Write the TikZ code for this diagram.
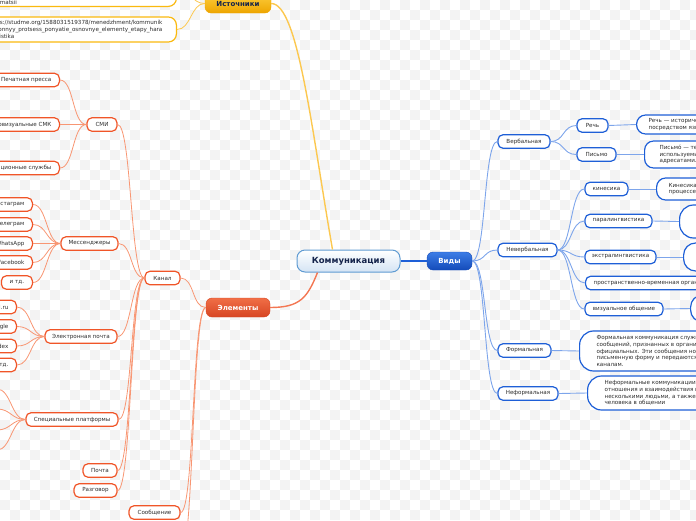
\documentclass[tikz,border=0pt]{standalone}
\usepackage{fontspec}
\setmainfont{DejaVu Sans}
\usepackage{xcolor}
\definecolor{rootblue}{RGB}{95,155,210}
\definecolor{rootfill}{RGB}{212,228,244}
\definecolor{navy}{RGB}{20,35,75}
\definecolor{kindblue}{RGB}{30,95,215}
\definecolor{kindtop}{RGB}{60,125,230}
\definecolor{kindbot}{RGB}{20,75,185}
\definecolor{kindline}{RGB}{125,165,235}
\definecolor{elemred}{RGB}{240,85,40}
\definecolor{elemtop}{RGB}{240,110,70}
\definecolor{elembot}{RGB}{215,70,35}
\definecolor{elemline}{RGB}{248,150,115}
\definecolor{srcgold}{RGB}{250,185,15}
\definecolor{srctop}{RGB}{252,205,60}
\definecolor{srcbot}{RGB}{238,165,0}
\definecolor{srcline}{RGB}{252,200,80}
\definecolor{ink}{RGB}{45,45,45}
\definecolor{checker}{RGB}{243,243,243}

\tikzset{
  leaf/.style={draw, line width=1.2pt, rounded corners=5pt, fill=white, text=ink,
    font=\fontsize{5.6}{6.8}\selectfont, minimum height=13.5pt, inner xsep=3pt, inner ysep=0pt},
  redleaf/.style={leaf, draw=elemred},
  blueleaf/.style={leaf, draw=kindblue},
  cutleaf/.style={inner xsep=8pt},
  topic/.style={rounded corners=6pt, font=\bfseries\fontsize{7}{8}\selectfont, minimum height=19pt},
  note/.style={leaf, draw=kindblue, rounded corners=9pt, align=left, inner xsep=12pt},
  srcnote/.style={leaf, draw=srcgold, rounded corners=8pt, align=left, inner xsep=12pt},
  redlink/.style={draw=elemline, line width=0.8pt},
  bluelink/.style={draw=kindline, line width=0.9pt},
  goldlink/.style={draw=srcline, line width=0.8pt}
}

\begin{document}
\begin{tikzpicture}[x=1pt,y=-1pt]
  \useasboundingbox (0,0) rectangle (696,520);
  \clip (0,0) rectangle (696,520);
  % background grid
  \foreach \x in {0,20,...,680}
    \foreach \y in {0,20,...,500} {
      \fill[checker] (\x,\y) rectangle ++(10,10);
      \fill[checker] (\x+10,\y+10) rectangle ++(10,10);
    }

  % central topic and main branches
  \node[draw=rootblue, line width=1pt, rounded corners=8pt, top color=white, bottom color=rootfill,
    text=navy, font=\bfseries\fontsize{8.5}{10}\selectfont, minimum width=103pt, minimum height=22pt]
    (root) at (348.5,261) {Коммуникация};
  \node[topic, draw=srcbot, top color=srctop, bottom color=srcbot, text=navy, minimum width=66pt]
    (src) at (238,3.5) {Источники};
  \node[topic, draw=elembot, top color=elemtop, bottom color=elembot, text=white, minimum width=64pt]
    (elem) at (238,307.5) {Элементы};
  \node[topic, draw=kindbot, top color=kindtop, bottom color=kindbot, text=white, minimum width=45pt, minimum height=18pt]
    (vidy) at (449.5,261) {Виды};

  \draw[srcline, line width=1.4pt] ([xshift=36pt]root.north west) .. controls +(-21,-120) and +(27,0) .. (src.east);
  \draw[elemred!80, line width=1.4pt] ([xshift=21pt]root.south west) .. controls +(-10,25) and +(30,0) .. (elem.east);
  \draw[kindblue, line width=1.2pt] (root.east) -- (vidy.west);

  % sources
  \node[srcnote, anchor=south east, minimum width=200pt, minimum height=36pt] (src1) at (177,7) {};
  \node[text=ink, font=\fontsize{5.6}{6.8}\selectfont, anchor=base west, inner sep=0pt] (src1txt) at (-2.5,4) {rmatsii};
  \node[srcnote, anchor=east, minimum height=25pt, inner xsep=14pt] (src2) at (177,29.5)
    {https://studme.org/1588031519378/menedzhment/kommunik\\atsionnyy\_protsess\_ponyatie\_osnovnye\_elementy\_etapy\_hara\\kteristika};
  \foreach \c in {src1, src2}
    \draw[goldlink] (src.west) .. controls +(-14,0) and +(14,0) .. (\c.east);

  % elements
  \node[redleaf, minimum width=35pt] (kanal) at (162.5,278) {Канал};
  \node[redleaf, minimum width=51pt] (soob) at (154.5,512.5) {Сообщение};
  \coordinate (elemmore) at (180,560);
  \foreach \c in {kanal, soob, elemmore}
    \draw[redlink] (elem.west) .. controls +(-14,0) and +(14,0) .. (\c.east);

  % channel
  \node[redleaf, minimum width=30pt] (smi) at (102,124.5) {СМИ};
  \node[redleaf, minimum width=57pt] (mess) at (89.5,243.5) {Мессенджеры};
  \node[redleaf, minimum width=72pt] (email) at (81,336.5) {Электронная почта};
  \node[redleaf, minimum width=92pt] (spec) at (72,419.5) {Специальные платформы};
  \node[redleaf, minimum width=34pt] (pochta) at (100,470.5) {Почта};
  \node[redleaf, minimum width=43pt] (razg) at (95.5,490.5) {Разговор};
  \foreach \c in {smi, mess, email, spec, pochta, razg}
    \draw[redlink] (kanal.west) .. controls +(-14,0) and +(14,0) .. (\c.east);

  % mass media
  \node[redleaf, cutleaf, anchor=east] (press) at (60,80) {Печатная пресса};
  \node[redleaf, cutleaf, anchor=east] (avsmk) at (60,124.5) {Аудиовизуальные СМК};
  \node[redleaf, cutleaf, anchor=east] (infsl) at (60,168) {Информационные службы};
  \foreach \c in {press, avsmk, infsl}
    \draw[redlink] (smi.west) .. controls +(-14,0) and +(14,0) .. (\c.east);

  % messengers
  \node[redleaf, cutleaf, anchor=east] (insta) at (33,204.5) {Инстаграм};
  \node[redleaf, cutleaf, anchor=east] (tele) at (33,224.5) {Телеграм};
  \node[redleaf, cutleaf, anchor=east] (whats) at (33,243.5) {WhatsApp};
  \node[redleaf, cutleaf, anchor=east] (fb) at (33,262.5) {Facebook};
  \node[redleaf, anchor=east, minimum width=31pt] (messetc) at (33,282.5) {и тд.};
  \foreach \c in {insta, tele, whats, fb, messetc}
    \draw[redlink] (mess.west) .. controls +(-14,0) and +(14,0) .. (\c.east);

  % e-mail
  \node[redleaf, cutleaf, anchor=east] (mailru) at (17,307) {Mail.ru};
  \node[redleaf, cutleaf, anchor=east] (google) at (17,326.5) {Google};
  \node[redleaf, cutleaf, anchor=east] (yandex) at (17,346) {Yandex};
  \node[redleaf, cutleaf, anchor=east] (mailetc) at (17,365) {и тд.};
  \foreach \c in {mailru, google, yandex, mailetc}
    \draw[redlink] (email.west) .. controls +(-14,0) and +(14,0) .. (\c.east);

  % special platforms (children off the page)
  \foreach \y [count=\i] in {389,409,430,450} {
    \coordinate (plat\i) at (-3,\y);
    \draw[redlink] (spec.west) .. controls +(-14,0) and +(14,0) .. (plat\i);
  }

  % kinds
  \node[blueleaf, minimum width=52pt] (verb) at (524,141.5) {Вербальная};
  \node[blueleaf, minimum width=59pt] (neverb) at (527.5,250) {Невербальная};
  \node[blueleaf, minimum width=53pt] (formal) at (524.5,350.5) {Формальная};
  \node[blueleaf, minimum width=60pt] (informal) at (528,393.5) {Неформальная};
  \foreach \c in {verb, neverb, formal, informal}
    \draw[bluelink] (vidy.east) .. controls +(14,0) and +(-14,0) .. (\c.west);

  % verbal
  \node[blueleaf, minimum width=31pt] (rech) at (592.5,125.5) {Речь};
  \node[blueleaf, minimum width=39pt] (pismo) at (596.5,154.5) {Письмо};
  \foreach \c in {rech, pismo}
    \draw[bluelink] (verb.east) .. controls +(14,0) and +(-14,0) .. (\c.west);
  \node[note, anchor=west, minimum height=19pt] (rechnote) at (636,124.5)
    {Речь — исторически\\посредством языка};
  \node[note, anchor=west, minimum height=27pt, inner xsep=15pt] (pismonote) at (644,154.5)
    {Письмо́ — техника\\используемые\\адресатами.};
  \draw[bluelink] (rech.east) -- (rechnote.west);
  \draw[bluelink] (pismo.east) -- (pismonote.west);

  % non-verbal
  \node[blueleaf, minimum width=43pt] (kines) at (606.5,189) {кинесика};
  \node[blueleaf, minimum width=67pt] (paraling) at (618.5,221) {паралингвистика};
  \node[blueleaf, minimum width=71pt] (extraling) at (620.5,257) {экстралингвистика};
  \node[blueleaf, anchor=west, inner xsep=8pt] (prostr) at (585,283) {пространственно-временная организация общения};
  \node[blueleaf, minimum width=78pt] (vizual) at (624,309) {визуальное общение};
  \foreach \c in {kines, paraling, extraling, prostr, vizual}
    \draw[bluelink] (neverb.east) .. controls +(14,0) and +(-14,0) .. (\c.west);
  \node[note, anchor=west, minimum height=22pt] (kinesnote) at (656,189) {Кинесика — это\\процессе общения};
  \node[note, anchor=west, minimum height=33pt, minimum width=60pt, rounded corners=14pt] (paranote) at (679,221.5) {};
  \node[note, anchor=west, minimum height=28pt, minimum width=60pt, rounded corners=12pt] (extranote) at (683,257) {};
  \node[note, anchor=west, minimum height=27pt, minimum width=60pt, rounded corners=12pt] (viznote) at (690,308.5) {};
  \draw[bluelink] (kines.east) -- (kinesnote.west);
  \draw[bluelink] (paraling.east) -- (paranote.west);
  \draw[bluelink] (extraling.east) -- (extranote.west);
  \draw[bluelink] (vizual.east) -- (viznote.west);

  % formal / informal
  \node[note, anchor=west, minimum height=40pt, inner xsep=17pt, rounded corners=14pt] (formalnote) at (579,351)
    {Формальная коммуникация служит для передачи\\сообщений, признанных в организации\\официальных. Эти сообщения носят\\письменную форму и передаются по официальным\\каналам.};
  \node[note, anchor=west, minimum height=34pt, inner xsep=17pt, rounded corners=14pt] (informalnote) at (587,393)
    {Неформальные коммуникации – это\\отношения и взаимодействия между\\несколькими людьми, а также влияние\\человека в общении};
  \draw[bluelink] (formal.east) -- (formalnote.west);
  \draw[bluelink] (informal.east) -- (informalnote.west);
\end{tikzpicture}
\end{document}
